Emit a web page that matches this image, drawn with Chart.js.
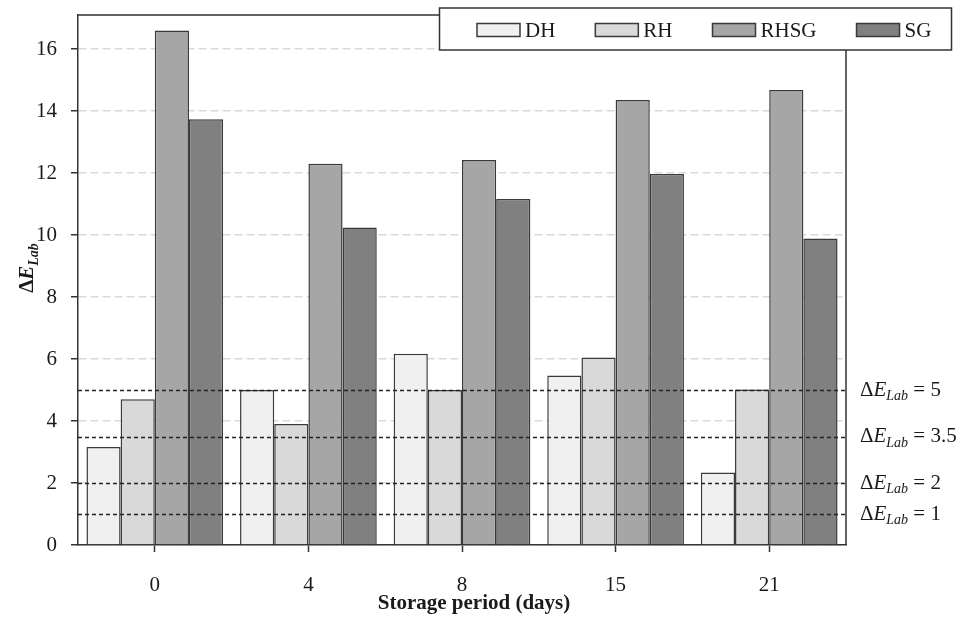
<!DOCTYPE html>
<html>
<head>
<meta charset="utf-8">
<script src="https://cdn.jsdelivr.net/npm/chart.js@4.4.1/dist/chart.umd.min.js"></script>
<style>
    body { margin: 0; background: #ffffff; }
    canvas { display: block; }
</style>
</head>
<body>
<canvas id="colorChart" width="957" height="617"></canvas>
<script>
// Data
const days = ['0', '4', '8', '15', '21'];
const dhValues = [3.16, 5.0, 6.17, 5.47, 2.34];
const rhValues = [4.70, 3.90, 5.0, 6.05, 5.02];
const rhsgValues = [16.6, 12.3, 12.42, 14.36, 14.68];
const sgValues = [13.74, 10.24, 11.16, 11.97, 9.89];
const seriesNames = ['DH', 'RH', 'RHSG', 'SG'];
const seriesColors = ['#f0f0f0', '#d9d9d9', '#a6a6a6', '#808080'];
const refLevels = [5, 3.5, 2, 1];
const refLabels = ['5', '3.5', '2', '1'];
const xTitle = 'Storage period (days)';

const FONT = '"Liberation Serif", "Times New Roman", serif';
const INK = '#1a1a1a';

// Draws "ΔE" with subscript "Lab", followed by an optional suffix; returns width
function drawDeltaE(ctx, x, y, suffix, bold, size, measureOnly) {
    const b = bold ? 'bold ' : '';
    const parts = [
        { text: '\u0394', font: `${b}${size}px ${FONT}`, dy: 0 },
        { text: 'E', font: `italic ${b}${size}px ${FONT}`, dy: 0 },
        { text: 'Lab', font: `italic ${b}${Math.round(size * 0.68)}px ${FONT}`, dy: size * 0.3 },
        { text: suffix || '', font: `${b}${size}px ${FONT}`, dy: 0 }
    ];
    let cx = x;
    parts.forEach(p => {
        ctx.font = p.font;
        if (!measureOnly) ctx.fillText(p.text, cx, y + p.dy);
        cx += ctx.measureText(p.text).width;
    });
    return cx - x;
}

// Plot frame, reference lines, labels and legend
const decorPlugin = {
    id: 'decor',
    afterDatasetsDraw(chart) {
        const { ctx, chartArea: a, scales: { y } } = chart;
        ctx.save();
        // reference lines over the bars
        ctx.strokeStyle = '#222';
        ctx.lineWidth = 1.5;
        ctx.setLineDash([4, 3]);
        refLevels.forEach(v => {
            const py = Math.round(y.getPixelForValue(v)) + 0.5;
            ctx.beginPath();
            ctx.moveTo(a.left, py);
            ctx.lineTo(a.right, py);
            ctx.stroke();
        });
        ctx.setLineDash([]);
        // frame top and right
        ctx.strokeStyle = '#333';
        ctx.lineWidth = 1.5;
        ctx.beginPath();
        ctx.moveTo(a.left, a.top);
        ctx.lineTo(a.right, a.top);
        ctx.lineTo(a.right, a.bottom);
        ctx.stroke();
        // labels of the reference lines
        ctx.fillStyle = INK;
        ctx.textBaseline = 'middle';
        ctx.textAlign = 'left';
        refLevels.forEach((v, i) => {
            drawDeltaE(ctx, a.right + 14, y.getPixelForValue(v), ' = ' + refLabels[i], false, 21);
        });
        // y axis title
        ctx.save();
        ctx.translate(28, (a.top + a.bottom) / 2 - 12);
        ctx.rotate(-Math.PI / 2);
        const w = drawDeltaE(ctx, 0, 0, '', true, 21, true);
        drawDeltaE(ctx, -w / 2, 0, '', true, 21);
        ctx.restore();
        // x axis title, sits a little right of the plot centre in the original
        ctx.font = `bold 21px ${FONT}`;
        ctx.textAlign = 'center';
        ctx.fillText(xTitle, (a.left + a.right) / 2 + 12, a.bottom + 59);
        ctx.restore();
    },
    afterDraw(chart) {
        const { ctx } = chart;
        ctx.save();
        // legend box
        ctx.fillStyle = '#ffffff';
        ctx.fillRect(439.5, 8, 512, 42);
        ctx.strokeStyle = '#333';
        ctx.lineWidth = 1.5;
        ctx.strokeRect(439.5, 8, 512, 42);
        ctx.font = `21px ${FONT}`;
        ctx.textBaseline = 'middle';
        ctx.textAlign = 'left';
        let x = 477;
        seriesNames.forEach((name, i) => {
            ctx.fillStyle = seriesColors[i];
            ctx.fillRect(x, 23.5, 43, 13);
            ctx.strokeStyle = '#3a3a3a';
            ctx.lineWidth = 1.5;
            ctx.strokeRect(x, 23.5, 43, 13);
            ctx.fillStyle = INK;
            ctx.fillText(name, x + 48, 31);
            x += 48 + ctx.measureText(name).width + 40;
        });
        ctx.restore();
    }
};

const seriesData = [dhValues, rhValues, rhsgValues, sgValues];

new Chart(document.getElementById('colorChart'), {
    type: 'bar',
    data: {
        labels: days,
        datasets: seriesNames.map((name, i) => ({
            label: name,
            data: seriesData[i],
            backgroundColor: seriesColors[i],
            borderColor: '#3a3a3a',
            borderWidth: 1.5,
            borderSkipped: 'bottom',
            barPercentage: 1.0,
            categoryPercentage: 0.89
        }))
    },
    options: {
        responsive: false,
        animation: false,
        layout: { padding: { left: 0, right: 111, top: 15, bottom: 0 } },
        plugins: {
            legend: { display: false },
            tooltip: { enabled: false }
        },
        scales: {
            x: {
                afterFit(scale) {
                    scale.height = 72;
                    scale.paddingLeft = 0;
                    scale.paddingRight = 0;
                },
                grid: {
                    offset: false,
                    drawOnChartArea: false,
                    tickLength: 7,
                    tickColor: '#333',
                    tickWidth: 1.5
                },
                border: { color: '#333', width: 1.5 },
                ticks: {
                    padding: 21,
                    color: INK,
                    font: { family: FONT, size: 21 }
                }
            },
            y: {
                min: 0,
                max: 17.1,
                afterFit(scale) {
                    scale.width = 78;
                    scale.paddingTop = 0;
                    scale.paddingBottom = 0;
                },
                grid: {
                    color: '#d9d9d9',
                    lineWidth: 1.5,
                    tickLength: 7,
                    tickColor: '#333',
                    tickWidth: 1.5,
                    tickBorderDash: []
                },
                border: { color: '#333', width: 1.5, dash: [8, 4] },
                ticks: {
                    stepSize: 2,
                    includeBounds: false,
                    padding: 14,
                    color: INK,
                    font: { family: FONT, size: 21 }
                }
            }
        }
    },
    plugins: [decorPlugin]
});
</script>
</body>
</html>
